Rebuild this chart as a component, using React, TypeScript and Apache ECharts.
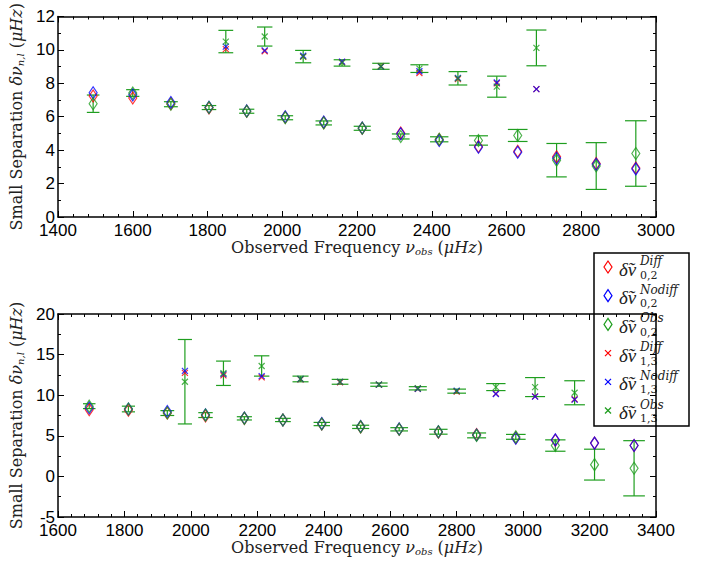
import React, { useEffect, useRef } from 'react';
import * as echarts from 'echarts';

// ---------- data ----------
// top panel, l = 0,2
const topFreq02 = [1494, 1600, 1702, 1804, 1905, 2008, 2111, 2214, 2317, 2420, 2525, 2630, 2734, 2840, 2946];
const topDiff02 = [7.24, 7.12, 6.78, 6.53, 6.33, 5.97, 5.65, 5.31, 5.02, 4.63, 4.22, 3.93, 3.6, 3.2, 2.93];
const topNodiff02 = [7.43, 7.31, 6.85, 6.57, 6.35, 6.0, 5.68, 5.33, 4.98, 4.58, 4.18, 3.88, 3.52, 3.15, 2.88];
const topObs02 = [6.78, 7.42, 6.75, 6.55, 6.33, 5.94, 5.63, 5.31, 4.82, 4.65, 4.58, 4.88, 3.4, 3.05, 3.8];
const topErr02 = [0.52, 0.2, 0.15, 0.12, 0.12, 0.12, 0.12, 0.12, 0.15, 0.15, 0.28, 0.36, 1.0, 1.4, 1.96];
// top panel, l = 1,3
const topFreq13 = [1849, 1953, 2056, 2160, 2264, 2367, 2470, 2574, 2680];
const topDiff13 = [10.05, 9.92, 9.6, 9.27, 9.02, 8.62, 8.25, 8.0, 7.65];
const topNodiff13 = [10.2, 9.97, 9.65, 9.3, 9.0, 8.72, 8.32, 8.05, 7.65];
const topObs13 = [10.5, 10.8, 9.6, 9.22, 9.02, 8.88, 8.3, 7.8, 10.12];
const topErr13 = [0.67, 0.57, 0.37, 0.19, 0.18, 0.23, 0.4, 0.63, 1.07];
// bottom panel, l = 0,2
const botFreq02 = [1694, 1812, 1929, 2044, 2161, 2277, 2394, 2511, 2627, 2745, 2860, 2978, 3097, 3215, 3334];
const botDiff02 = [8.2, 8.15, 7.8, 7.45, 7.15, 6.95, 6.45, 6.1, 5.8, 5.45, 5.15, 4.75, 4.45, 4.1, 3.8];
const botNodiff02 = [8.45, 8.3, 8.0, 7.6, 7.2, 6.95, 6.5, 6.15, 5.85, 5.5, 5.1, 4.7, 4.5, 4.1, 3.8];
const botObs02 = [8.65, 8.3, 7.8, 7.55, 7.15, 6.95, 6.45, 6.1, 5.8, 5.5, 5.05, 4.87, 3.8, 1.45, 1.0];
const botErr02 = [0.3, 0.35, 0.3, 0.3, 0.2, 0.2, 0.2, 0.2, 0.2, 0.3, 0.3, 0.3, 0.7, 1.9, 3.4];
// bottom panel, l = 1,3
const botFreq13 = [1982, 2098, 2213, 2330, 2449, 2566, 2683, 2800, 2918, 3036, 3155];
const botDiff13 = [12.75, 12.45, 12.2, 11.95, 11.6, 11.3, 10.8, 10.45, 10.2, 9.85, 9.5];
const botNodiff13 = [13.0, 12.6, 12.35, 12.0, 11.65, 11.3, 10.8, 10.55, 10.15, 9.82, 9.45];
const botObs13 = [11.66, 12.7, 13.6, 12.0, 11.65, 11.3, 10.85, 10.5, 11.0, 11.0, 10.3];
const botErr13 = [5.2, 1.5, 1.25, 0.35, 0.3, 0.2, 0.2, 0.25, 0.43, 1.17, 1.48];

const legendSup = ['Diff', 'Nodiff', 'Obs', 'Diff', 'Nodiff', 'Obs'];
const legendSub = ['0,2', '0,2', '0,2', '1,3', '1,3', '1,3'];

// ---------- style ----------
const RED = '#ff0000';
const BLUE = '#0000ff';
const GREEN = '#1f9e1f';
const SERIF = '"DejaVu Serif", "Liberation Serif", serif';
const LSERIF = '"Liberation Serif", "DejaVu Serif", serif';
const SANS = '"Liberation Sans", Arial, sans-serif';
const CROSS = 'path://M0,0L10,10M10,0L0,10';

const pairs = (xs: number[], ys: number[]) => xs.map((x, i) => [x, ys[i]]);
const triples = (xs: number[], ys: number[], es: number[]) => xs.map((x, i) => [x, ys[i], es[i]]);

const errRender = (params: any, api: any) => {
  const x = api.value(0);
  const y = api.value(1);
  const e = api.value(2);
  const t = api.coord([x, y + e]);
  const b = api.coord([x, y - e]);
  const hw = 6 + (5 * (t[0] - 58)) / 598;
  const style = { stroke: GREEN, lineWidth: 1.2, fill: 'none' };
  return {
    type: 'group',
    children: [
      { type: 'line', shape: { x1: t[0], y1: t[1], x2: b[0], y2: b[1] }, style },
      { type: 'line', shape: { x1: t[0] - hw, y1: t[1], x2: t[0] + hw, y2: t[1] }, style },
      { type: 'line', shape: { x1: b[0] - hw, y1: b[1], x2: b[0] + hw, y2: b[1] }, style },
    ],
  };
};

const TC = '#222';
const titleRich = {
  r: { fontFamily: SERIF, fontSize: 16, color: TC, lineHeight: 18 },
  i: { fontFamily: SERIF, fontStyle: 'italic', fontSize: 16, color: TC, lineHeight: 18 },
  s: { fontFamily: SERIF, fontStyle: 'italic', fontSize: 10, color: TC, lineHeight: 10, verticalAlign: 'bottom' },
};

const lineStyleAx = { color: '#000', width: 1.5 };

function xAxis(gridIndex: number, min: number, max: number, position: 'top' | 'bottom') {
  const main = position === 'bottom';
  return {
    type: 'value',
    gridIndex,
    position,
    min,
    max,
    interval: 200,
    axisLine: { show: true, onZero: false, lineStyle: lineStyleAx },
    axisTick: { show: true, inside: true, length: 6, lineStyle: { color: '#000', width: 1 } },
    minorTick: { show: true, splitNumber: 5, length: 3, lineStyle: { color: '#000', width: 1 } },
    splitLine: { show: false },
    axisLabel: {
      show: main,
      margin: 5,
      fontFamily: SANS,
      fontSize: 17,
      color: '#000',
      formatter: (v: number) => String(v),
    },
    name: main ? '{r|Observed Frequency }{i|ν}{s|obs}{r| (}{i|μHz}{r|)}' : '',
    nameLocation: 'middle',
    nameGap: 18,
    nameTextStyle: { rich: titleRich },
  };
}

function yAxis(gridIndex: number, min: number, max: number, interval: number, position: 'left' | 'right') {
  const main = position === 'left';
  return {
    type: 'value',
    gridIndex,
    position,
    min,
    max,
    interval,
    axisLine: { show: true, onZero: false, lineStyle: lineStyleAx },
    axisTick: { show: true, inside: true, length: 6, lineStyle: { color: '#000', width: 1 } },
    minorTick: { show: true, splitNumber: 2, length: 3, lineStyle: { color: '#000', width: 1 } },
    splitLine: { show: false },
    axisLabel: {
      show: main,
      margin: 3,
      fontFamily: SANS,
      fontSize: 17,
      color: '#000',
      formatter: (v: number) => String(v),
    },
    name: main ? '{r|Small Separation }{i|δν}{s|n,l}{r| (}{i|μHz}{r|)}' : '',
    nameLocation: 'middle',
    nameGap: 24,
    nameTextStyle: { rich: titleRich },
  };
}

function panelSeries(
  xi: number,
  yi: number,
  f02: number[], d02: number[], n02: number[], o02: number[], e02: number[],
  f13: number[], d13: number[], n13: number[], o13: number[], e13: number[],
) {
  const diamond = (data: number[][], c: string) => ({
    type: 'scatter',
    xAxisIndex: xi,
    yAxisIndex: yi,
    data,
    symbol: 'diamond',
    symbolSize: [8, 12],
    itemStyle: { color: 'transparent', borderColor: c, borderWidth: 1.2 },
    z: 3,
  });
  const cross = (data: number[][], c: string) => ({
    type: 'scatter',
    xAxisIndex: xi,
    yAxisIndex: yi,
    data,
    symbol: CROSS,
    symbolSize: 6,
    itemStyle: { color: 'transparent', borderColor: c, borderWidth: 1.2 },
    z: 3,
  });
  const err = (data: number[][]) => ({
    type: 'custom',
    xAxisIndex: xi,
    yAxisIndex: yi,
    data,
    encode: { x: 0, y: 1 },
    renderItem: errRender,
    z: 2,
  });
  return [
    err(triples(f02, o02, e02)),
    err(triples(f13, o13, e13)),
    diamond(pairs(f02, d02), RED),
    diamond(pairs(f02, n02), BLUE),
    diamond(pairs(f02, o02), GREEN),
    cross(pairs(f13, d13), RED),
    cross(pairs(f13, n13), BLUE),
    cross(pairs(f13, o13), GREEN),
  ];
}

function legendGraphic() {
  const colors = [RED, BLUE, GREEN, RED, BLUE, GREEN];
  const children: any[] = [
    {
      type: 'rect',
      shape: { x: 594, y: 253, width: 95, height: 173 },
      style: { fill: '#fff', stroke: '#000', lineWidth: 1.5 },
    },
  ];
  const txt = (text: string, x: number, y: number, font: string) => ({
    type: 'text',
    style: {
      text, x, y, font, fill: TC,
      align: 'left', verticalAlign: 'middle', textAlign: 'left', textVerticalAlign: 'middle',
    },
  });
  for (let i = 0; i < 6; i++) {
    const yc = 267 + i * 28.7;
    const xc = 608;
    if (i < 3) {
      children.push({
        type: 'polygon',
        shape: { points: [[xc, yc - 6], [xc + 4, yc], [xc, yc + 6], [xc - 4, yc]] },
        style: { fill: 'none', stroke: colors[i], lineWidth: 1.2 },
      });
    } else {
      children.push(
        { type: 'line', shape: { x1: xc - 3, y1: yc - 3, x2: xc + 3, y2: yc + 3 }, style: { stroke: colors[i], lineWidth: 1.2 } },
        { type: 'line', shape: { x1: xc + 3, y1: yc - 3, x2: xc - 3, y2: yc + 3 }, style: { stroke: colors[i], lineWidth: 1.2 } },
      );
    }
    children.push(txt('δ\u0303ν', 619, yc + 2, `italic 19px ${LSERIF}`));
    children.push(txt(legendSup[i], 640, yc - 6, `italic 12px ${SERIF}`));
    children.push(txt(legendSub[i], 640, yc + 8, `11px ${SERIF}`));
  }
  return [{ type: 'group', z: 100, children }];
}

export default function App() {
  const ref = useRef<HTMLDivElement>(null);
  useEffect(() => {
    if (!ref.current) return;
    const chart = echarts.init(ref.current, undefined, { renderer: 'svg' });
    const option: any = {
      animation: false,
      backgroundColor: '#fff',
      grid: [
        { left: 58, top: 13, width: 598, height: 204 },
        { left: 58, top: 314, width: 598, height: 203 },
      ],
      xAxis: [
        xAxis(0, 1400, 3000, 'bottom'),
        xAxis(0, 1400, 3000, 'top'),
        xAxis(1, 1600, 3400, 'bottom'),
        xAxis(1, 1600, 3400, 'top'),
      ],
      yAxis: [
        yAxis(0, 0, 12, 2, 'left'),
        yAxis(0, 0, 12, 2, 'right'),
        yAxis(1, -5, 20, 5, 'left'),
        yAxis(1, -5, 20, 5, 'right'),
      ],
      series: [
        ...panelSeries(0, 0, topFreq02, topDiff02, topNodiff02, topObs02, topErr02, topFreq13, topDiff13, topNodiff13, topObs13, topErr13),
        ...panelSeries(2, 2, botFreq02, botDiff02, botNodiff02, botObs02, botErr02, botFreq13, botDiff13, botNodiff13, botObs13, botErr13),
      ],
      graphic: legendGraphic(),
    };
    chart.setOption(option);
    return () => chart.dispose();
  }, []);
  return (
    <div
      ref={ref}
      style={{ position: 'fixed', left: 0, top: 0, width: 707, height: 562, background: '#fff' }}
    />
  );
}
